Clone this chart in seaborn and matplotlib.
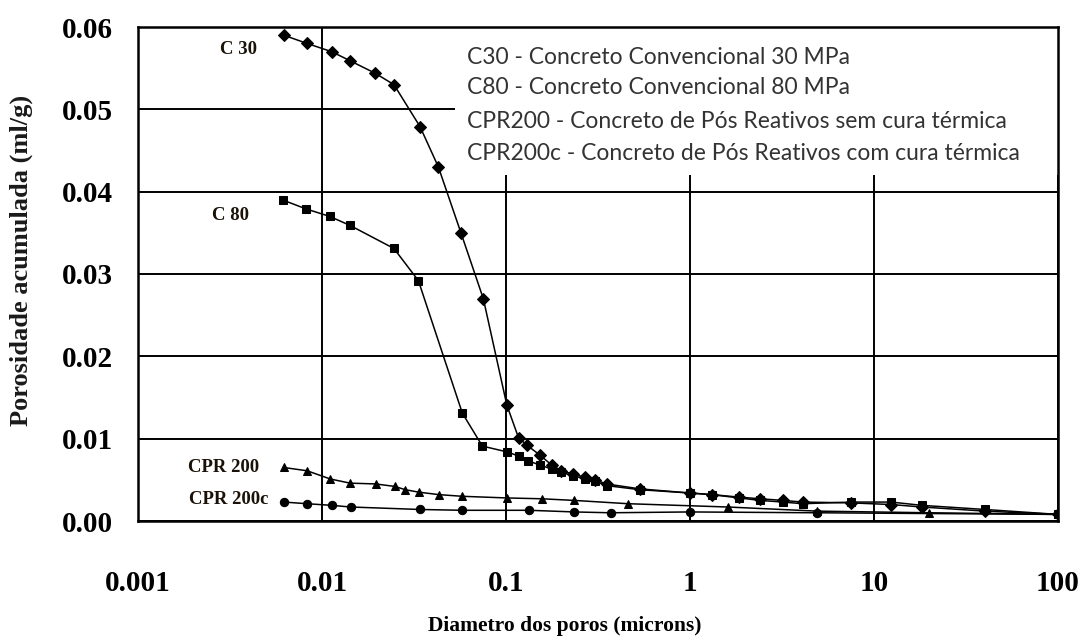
import numpy as np
import pandas as pd
import matplotlib
matplotlib.use("Agg")
import matplotlib.pyplot as plt
from matplotlib.patches import Rectangle
from matplotlib.ticker import FixedLocator, FixedFormatter
import seaborn as sns

# ---------------- data ----------------
c30_x = [0.0062, 0.0083, 0.0113, 0.0142, 0.0194, 0.0246, 0.0341, 0.0429, 0.0569, 0.0753,
         0.101, 0.117, 0.130, 0.153, 0.177, 0.200, 0.232, 0.269, 0.305, 0.352, 0.535,
         1.0, 1.32, 1.85, 2.4, 3.2, 4.1, 7.5, 12.4, 18.2, 40.0, 100.0]
c30_y = [0.0590, 0.0580, 0.0570, 0.0559, 0.0544, 0.0530, 0.0479, 0.0430, 0.0350, 0.0270,
         0.0141, 0.0101, 0.0092, 0.0080, 0.0068, 0.0061, 0.0057, 0.0053, 0.0050, 0.0045, 0.0039,
         0.0034, 0.0032, 0.0029, 0.0027, 0.0025, 0.0023, 0.0022, 0.0020, 0.0017, 0.0012, 0.0008]

c80_x = [0.0061, 0.0082, 0.0110, 0.0142, 0.0246, 0.0334, 0.0579, 0.0744, 0.101, 0.117,
         0.132, 0.153, 0.177, 0.200, 0.232, 0.269, 0.305, 0.352, 0.535, 1.0, 1.32, 1.85,
         2.41, 3.2, 4.1, 7.5, 12.4, 18.2, 40.0, 100.0]
c80_y = [0.0390, 0.0379, 0.0370, 0.0359, 0.0331, 0.0292, 0.0131, 0.0091, 0.0084, 0.0079,
         0.0073, 0.0068, 0.0063, 0.0059, 0.0055, 0.0051, 0.0048, 0.0043, 0.0038, 0.0034, 0.0032, 0.0028,
         0.0025, 0.0023, 0.0021, 0.0023, 0.0023, 0.0019, 0.0014, 0.0008]

cpr200_x = [0.0062, 0.0083, 0.0111, 0.0142, 0.0196, 0.0248, 0.0284, 0.0336, 0.0433, 0.0579,
            0.101, 0.156, 0.235, 0.46, 1.6, 4.9, 20.0, 100.0]
cpr200_y = [0.0065, 0.0061, 0.0051, 0.0046, 0.0045, 0.0042, 0.0038, 0.0035, 0.0032, 0.0030,
            0.0028, 0.0027, 0.0025, 0.0021, 0.0017, 0.0012, 0.0010, 0.0008]

cpr200c_x = [0.0062, 0.0083, 0.0113, 0.0143, 0.0341, 0.0579, 0.134, 0.235, 0.37, 1.0, 4.9, 100.0]
cpr200c_y = [0.0023, 0.0021, 0.0019, 0.0017, 0.0014, 0.0013, 0.0013, 0.0011, 0.0010, 0.0011, 0.0010, 0.0008]

series_names = ["C 30", "C 80", "CPR 200", "CPR 200c"]
series_markers = ["D", "s", "^", "o"]

legend_lines = [
    "C30 - Concreto Convencional 30 MPa",
    "C80 - Concreto Convencional 80 MPa",
    "CPR200 - Concreto de Pós Reativos sem cura térmica",
    "CPR200c - Concreto de Pós Reativos com cura térmica",
]

x_ticks = [0.001, 0.01, 0.1, 1, 10, 100]
x_tick_labels = ["0.001", "0.01", "0.1", "1", "10", "100"]
y_ticks = [0.00, 0.01, 0.02, 0.03, 0.04, 0.05, 0.06]
y_tick_labels = ["0.00", "0.01", "0.02", "0.03", "0.04", "0.05", "0.06"]

x_label = "Diametro dos poros (microns)"
y_label = "Porosidade acumulada (ml/g)"

# ---------------- frame ----------------
frames = []
for name, xs, ys in zip(series_names,
                        [c30_x, c80_x, cpr200_x, cpr200c_x],
                        [c30_y, c80_y, cpr200_y, cpr200c_y]):
    frames.append(pd.DataFrame({"d": xs, "p": ys, "serie": name}))
df = pd.concat(frames, ignore_index=True)

sns.set_theme(style="white")
plt.rcParams["font.family"] = ["Liberation Serif", "DejaVu Serif"]

fig = plt.figure(figsize=(10.86, 6.41), dpi=100)
ax = fig.add_axes([138 / 1086, 1 - 521 / 641, 920 / 1086, 494 / 641])

sns.lineplot(data=df, x="d", y="p", hue="serie", style="serie",
             palette=["black"] * 4, markers=dict(zip(series_names, series_markers)),
             dashes=False, markersize=6, linewidth=1.1, markeredgecolor="black",
             legend=False, ax=ax, zorder=3, sort=True, estimator=None)

ax.set_xscale("log")
ax.set_xlim(0.001, 100)
ax.set_ylim(0, 0.06)

ax.xaxis.set_major_locator(FixedLocator(x_ticks))
ax.xaxis.set_major_formatter(FixedFormatter(x_tick_labels))
ax.xaxis.set_minor_locator(FixedLocator([]))
ax.yaxis.set_major_locator(FixedLocator(y_ticks))
ax.yaxis.set_major_formatter(FixedFormatter(y_tick_labels))

ax.set_axisbelow(True)
ax.grid(True, which="major", color="black", linewidth=1.4)

for sp in ax.spines.values():
    sp.set_visible(True)
    sp.set_color("black")
    sp.set_linewidth(1.8)

ax.tick_params(axis="both", which="major", direction="out", length=5, width=1.4,
               color="black", labelcolor="black", labelsize=21)
ax.tick_params(axis="x", pad=30)
ax.tick_params(axis="y", pad=13)
for lab in ax.get_xticklabels() + ax.get_yticklabels():
    lab.set_fontweight("bold")

ax.set_xlabel(x_label, fontsize=15.5, fontweight="bold", color="black")
ax.xaxis.set_label_coords((565 - 138) / 920, -(626 - 521) / 494)
ax.xaxis.label.set_va("center")
ax.set_ylabel(y_label, fontsize=19, fontweight="bold", color="#1a1a1a")
ax.yaxis.set_label_coords((33 - 138) / 920, 1 - (260 - 27) / 494)

# white box holding the description text
ax.add_patch(Rectangle(((455 - 138) / 920, 1 - (175 - 27) / 494), 1 - (455 - 138) / 920,
                       (175 - 27) / 494, transform=ax.transAxes, facecolor="white",
                       edgecolor="none", zorder=1))

legend_y = [57, 88, 121, 153]
for txt, py in zip(legend_lines, legend_y):
    ax.text((467 - 138) / 920, 1 - (py - 27) / 494, txt, transform=ax.transAxes,
            fontsize=16.5, family=["Lato", "DejaVu Sans"], color="#333333",
            va="center", ha="left", zorder=4)

# series labels beside the curves
label_pos = [(239, 50), (231, 215), (224, 467), (229, 499)]
for name, (px, py) in zip(series_names, label_pos):
    ax.text((px - 138) / 920, 1 - (py - 27) / 494, name, transform=ax.transAxes,
            fontsize=13.5, fontweight="bold", color="#1a1208", va="center", ha="center",
            zorder=4)

fig.savefig("out.png", dpi=100, facecolor="white")
